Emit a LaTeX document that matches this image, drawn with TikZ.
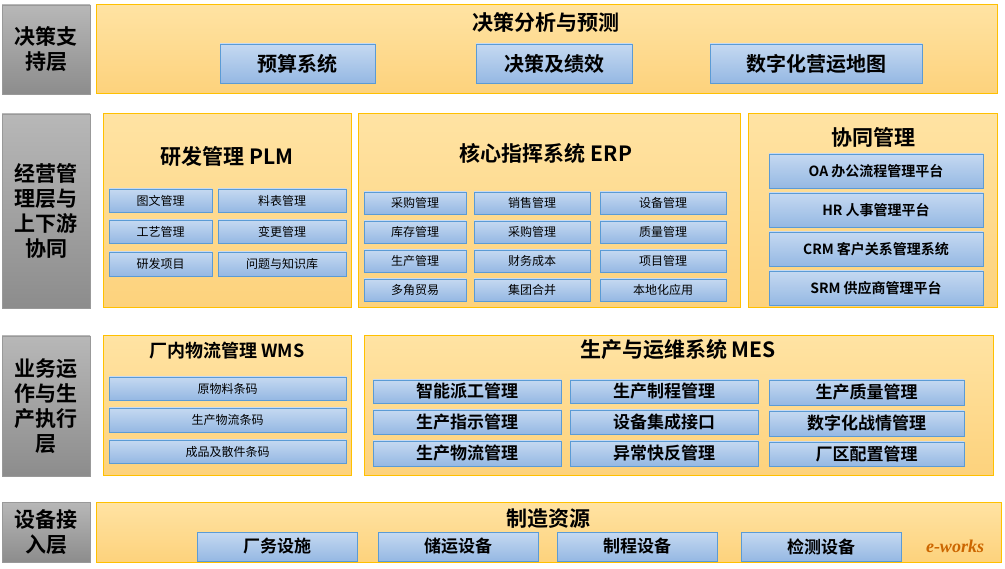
\documentclass[tikz,border=0pt]{standalone}
\usepackage{fontspec}
\setmainfont{Noto Sans CJK SC}[BoldFont=* Bold]
\setsansfont{Noto Sans CJK SC}
\definecolor{bT}{HTML}{C5D9F1}
\definecolor{bB}{HTML}{95B8E3}
\definecolor{bD}{HTML}{5B9BD5}
\definecolor{oT}{HTML}{FFE3A3}
\definecolor{oB}{HTML}{FDD27C}
\definecolor{oD}{HTML}{FFC000}
\begin{document}
\begin{tikzpicture}[x=1pt,y=-1pt,
  grey/.style={draw=gray!80,top color=black!28,bottom color=black!45,line width=0.8pt,font=\bfseries\fontsize{21}{25}\selectfont,align=center,inner sep=0pt},
  org/.style={draw=oD,top color=oT,bottom color=oB,line width=1pt},
  blu/.style={draw=bD,top color=bT,bottom color=bB,line width=0.8pt,inner sep=0pt},
  ttl/.style={font=\bfseries\fontsize{21}{25}\selectfont},
  tiny/.style={blu,font=\fontsize{12}{14}\selectfont},
]
\useasboundingbox (0,0) rectangle (1005,569);
\newcommand\rb[6]{\node[#6,minimum width=#4-#2,minimum height=#5-#3] (#1) at ({(#2+#4)/2},{(#3+#5)/2}) {};}
\newcommand\tb[7]{\node[#6,minimum width=#4-#2,minimum height=#5-#3] (#1) at ({(#2+#4)/2},{(#3+#5)/2}) {#7};}
% left labels
\tb{l1}{2}{5}{90}{94}{grey}{决策支\\持层}
\tb{l2}{2}{114}{90}{308}{grey}{经营管\\理层与\\上下游\\协同}
\tb{l3}{2}{336}{90}{476}{grey}{业务运\\作与生\\产执行\\层}
\tb{l4}{2}{502}{90}{562}{grey}{设备接\\入层}
% top
\rb{top}{96}{5}{997}{94}{org}
\node[ttl] (toptitle) at (546,22) {决策分析与预测};
\tb{t1}{220}{44}{375}{83}{blu,font=\bfseries\fontsize{20}{24}\selectfont}{预算系统}
\tb{t2}{476}{44}{632}{83}{blu,font=\bfseries\fontsize{20}{24}\selectfont}{决策及绩效}
\tb{t3}{710}{44}{922}{83}{blu,font=\bfseries\fontsize{20}{24}\selectfont}{数字化营运地图}
% PLM
\rb{plm}{103}{114}{351}{308}{org}
\node[ttl] (plmt) at (227,157) {研发管理 PLM};
\tb{p1}{109}{189}{212}{212}{tiny}{图文管理}
\tb{p2}{218}{189}{346}{212}{tiny}{料表管理}
\tb{p3}{109}{220}{212}{243}{tiny}{工艺管理}
\tb{p4}{218}{220}{346}{243}{tiny}{变更管理}
\tb{p5}{109}{252}{212}{276}{tiny}{研发项目}
\tb{p6}{218}{252}{346}{276}{tiny}{问题与知识库}
% ERP
\rb{erp}{358}{114}{740}{308}{org}
\node[ttl] (erpt) at (546,153) {核心指挥系统 ERP};
\tb{e1}{364}{192}{466}{214}{tiny}{采购管理}
\tb{e2}{474}{192}{590}{214}{tiny}{销售管理}
\tb{e3}{600}{192}{726}{214}{tiny}{设备管理}
\tb{e4}{364}{221}{466}{243}{tiny}{库存管理}
\tb{e5}{474}{221}{590}{243}{tiny}{采购管理}
\tb{e6}{600}{221}{726}{243}{tiny}{质量管理}
\tb{e7}{364}{250}{466}{272}{tiny}{生产管理}
\tb{e8}{474}{250}{590}{272}{tiny}{财务成本}
\tb{e9}{600}{250}{726}{272}{tiny}{项目管理}
\tb{e10}{364}{279}{466}{301}{tiny}{多角贸易}
\tb{e11}{474}{279}{590}{301}{tiny}{集团合并}
\tb{e12}{600}{279}{726}{301}{tiny}{本地化应用}
% 协同
\rb{xt}{748}{114}{997}{308}{org}
\node[ttl] (xtt) at (873,137) {协同管理};
\tb{x1}{769}{154}{983}{188}{blu,font=\bfseries\fontsize{14}{16}\selectfont}{OA 办公流程管理平台}
\tb{x2}{769}{193}{983}{227}{blu,font=\bfseries\fontsize{14}{16}\selectfont}{HR 人事管理平台}
\tb{x3}{769}{232}{983}{266}{blu,font=\bfseries\fontsize{14}{16}\selectfont}{CRM 客户关系管理系统}
\tb{x4}{769}{271}{983}{305}{blu,font=\bfseries\fontsize{14}{16}\selectfont}{SRM 供应商管理平台}
% WMS
\rb{wms}{103}{336}{351}{476}{org}
\node[ttl,font=\bfseries\fontsize{18}{22}\selectfont] (wmst) at (227,351) {厂内物流管理 WMS};
\tb{w1}{109}{377}{346}{400}{tiny}{原物料条码}
\tb{w2}{109}{408}{346}{432}{tiny}{生产物流条码}
\tb{w3}{109}{440}{346}{463}{tiny}{成品及散件条码}
% MES
\rb{mes}{364}{336}{993}{476}{org}
\node[ttl] (mest) at (678,350) {生产与运维系统 MES};
\tikzset{mb/.style={blu,font=\bfseries\fontsize{17}{20}\selectfont}}
\tb{m1}{373}{380}{561}{403}{mb}{智能派工管理}
\tb{m2}{570}{380}{758}{403}{mb}{生产制程管理}
\tb{m3}{769}{380}{964}{405}{mb}{生产质量管理}
\tb{m4}{373}{410}{561}{434}{mb}{生产指示管理}
\tb{m5}{570}{410}{758}{434}{mb}{设备集成接口}
\tb{m6}{769}{411}{964}{436}{mb}{数字化战情管理}
\tb{m7}{373}{441}{561}{466}{mb}{生产物流管理}
\tb{m8}{570}{441}{758}{466}{mb}{异常快反管理}
\tb{m9}{769}{442}{964}{466}{mb}{厂区配置管理}
% bottom
\rb{bot}{96}{502}{1001}{562}{org}
\node[ttl] (bott) at (548,519) {制造资源};
\tikzset{bb/.style={blu,font=\bfseries\fontsize{17}{20}\selectfont}}
\tb{b1}{197}{532}{357}{561}{bb}{厂务设施}
\tb{b2}{378}{532}{538}{561}{bb}{储运设备}
\tb{b3}{557}{532}{717}{561}{bb}{制程设备}
\tb{b4}{741}{532}{901}{561}{bb}{检测设备}
\node[font=\itshape\bfseries\fontsize{18}{20}\selectfont,text=orange!80!black] (logo) at (955,546) {\fontspec{Liberation Serif}e-works};
\end{tikzpicture}
\end{document}
